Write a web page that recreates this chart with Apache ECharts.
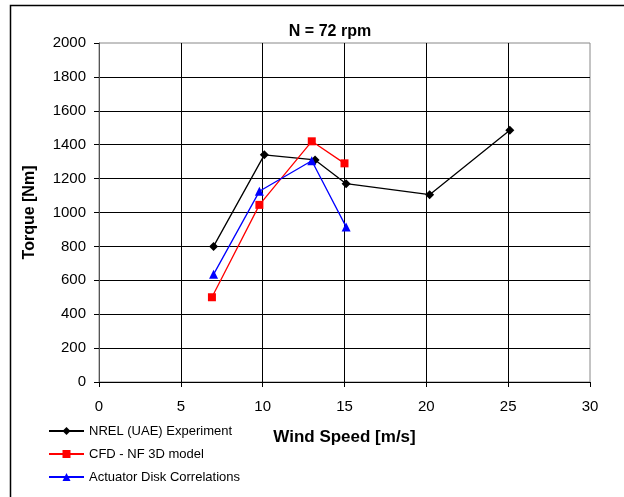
<!DOCTYPE html>
<html>
<head>
<meta charset="utf-8">
<script src="https://cdn.jsdelivr.net/npm/echarts@6/dist/echarts.min.js"></script>
<style>
  html, body { margin: 0; padding: 0; background: #fff; }
  #chart { width: 624px; height: 497px; }
</style>
</head>
<body>
<div id="chart"></div>
<script>
// Torque vs wind speed at N = 72 rpm
const seriesNames = ['NREL (UAE) Experiment', 'CFD - NF 3D model', 'Actuator Disk Correlations'];
const nrelData = [[7.0, 800], [10.1, 1340], [13.2, 1310], [15.1, 1170], [20.2, 1105], [25.1, 1485]];
const cfdData = [[6.9, 500], [9.8, 1045], [13.0, 1420], [15.0, 1290]];
const diskData = [[7.0, 635], [9.8, 1125], [13.0, 1305], [15.1, 915]];
const xTicks = { min: 0, max: 30, step: 5 };
const yTicks = { min: 0, max: 2000, step: 200 };

const FONT = '"Liberation Sans", Arial, sans-serif';
const chart = echarts.init(document.getElementById('chart'), null, { renderer: 'canvas' });

function lineSeries(name, data, color, symbol, size) {
  return {
    name: name,
    type: 'line',
    data: data,
    symbol: symbol,
    symbolSize: size,
    showAllSymbol: true,
    lineStyle: { color: color, width: 1.3 },
    itemStyle: { color: color },
    emphasis: { disabled: true },
    animation: false
  };
}

chart.setOption({
  backgroundColor: '#fff',
  animation: false,
  title: {
    text: 'N = 72 rpm',
    left: 325,
    top: 19,
    textAlign: 'center',
    textStyle: { fontFamily: FONT, fontSize: 16, fontWeight: 'bold', color: '#000' }
  },
  graphic: [{
    type: 'rect',
    shape: { x: 10.5, y: 5.5, width: 700, height: 600 },
    style: { fill: 'none', stroke: '#000', lineWidth: 1.5 },
    silent: true
  }],
  legend: {
    orient: 'vertical',
    left: 43,
    top: 419,
    itemWidth: 35,
    itemHeight: 10,
    itemGap: 9,
    data: seriesNames,
    textStyle: { fontFamily: FONT, fontSize: 13, color: '#000', lineHeight: 14 }
  },
  grid: {
    left: 99, right: 34, top: 43, bottom: 115,
    show: true,
    borderColor: '#888',
    borderWidth: 1,
    backgroundColor: '#fff'
  },
  xAxis: {
    type: 'value',
    min: xTicks.min, max: xTicks.max, interval: xTicks.step,
    name: 'Wind Speed [m/s]',
    nameLocation: 'middle',
    nameGap: 47,
    nameTextStyle: { fontFamily: FONT, fontSize: 17, fontWeight: 'bold', color: '#000' },
    axisLine: { show: true, onZero: false, lineStyle: { color: '#000', width: 1 } },
    axisTick: { show: true, inside: false, length: 5, lineStyle: { color: '#000' } },
    axisLabel: { fontFamily: FONT, fontSize: 15, color: '#000', margin: 17 },
    splitLine: { show: true, showMinLine: false, showMaxLine: false, lineStyle: { color: '#000', width: 1 } }
  },
  yAxis: {
    type: 'value',
    min: yTicks.min, max: yTicks.max, interval: yTicks.step,
    name: 'Torque [Nm]',
    nameLocation: 'middle',
    nameGap: 61,
    nameTextStyle: { fontFamily: FONT, fontSize: 16, fontWeight: 'bold', color: '#000' },
    axisLine: { show: true, lineStyle: { color: '#555', width: 1 } },
    axisTick: { show: true, inside: false, length: 5, lineStyle: { color: '#000' } },
    axisLabel: {
      fontFamily: FONT, fontSize: 15, color: '#000', margin: 13,
      formatter: function (v) { return String(v); }
    },
    splitLine: { show: true, showMinLine: false, showMaxLine: false, lineStyle: { color: '#000', width: 1 } }
  },
  series: [
    lineSeries(seriesNames[0], nrelData, '#000', 'diamond', 9),
    lineSeries(seriesNames[1], cfdData, '#ff0000', 'rect', 8),
    lineSeries(seriesNames[2], diskData, '#0000ff', 'triangle', 9)
  ]
});
</script>
</body>
</html>
